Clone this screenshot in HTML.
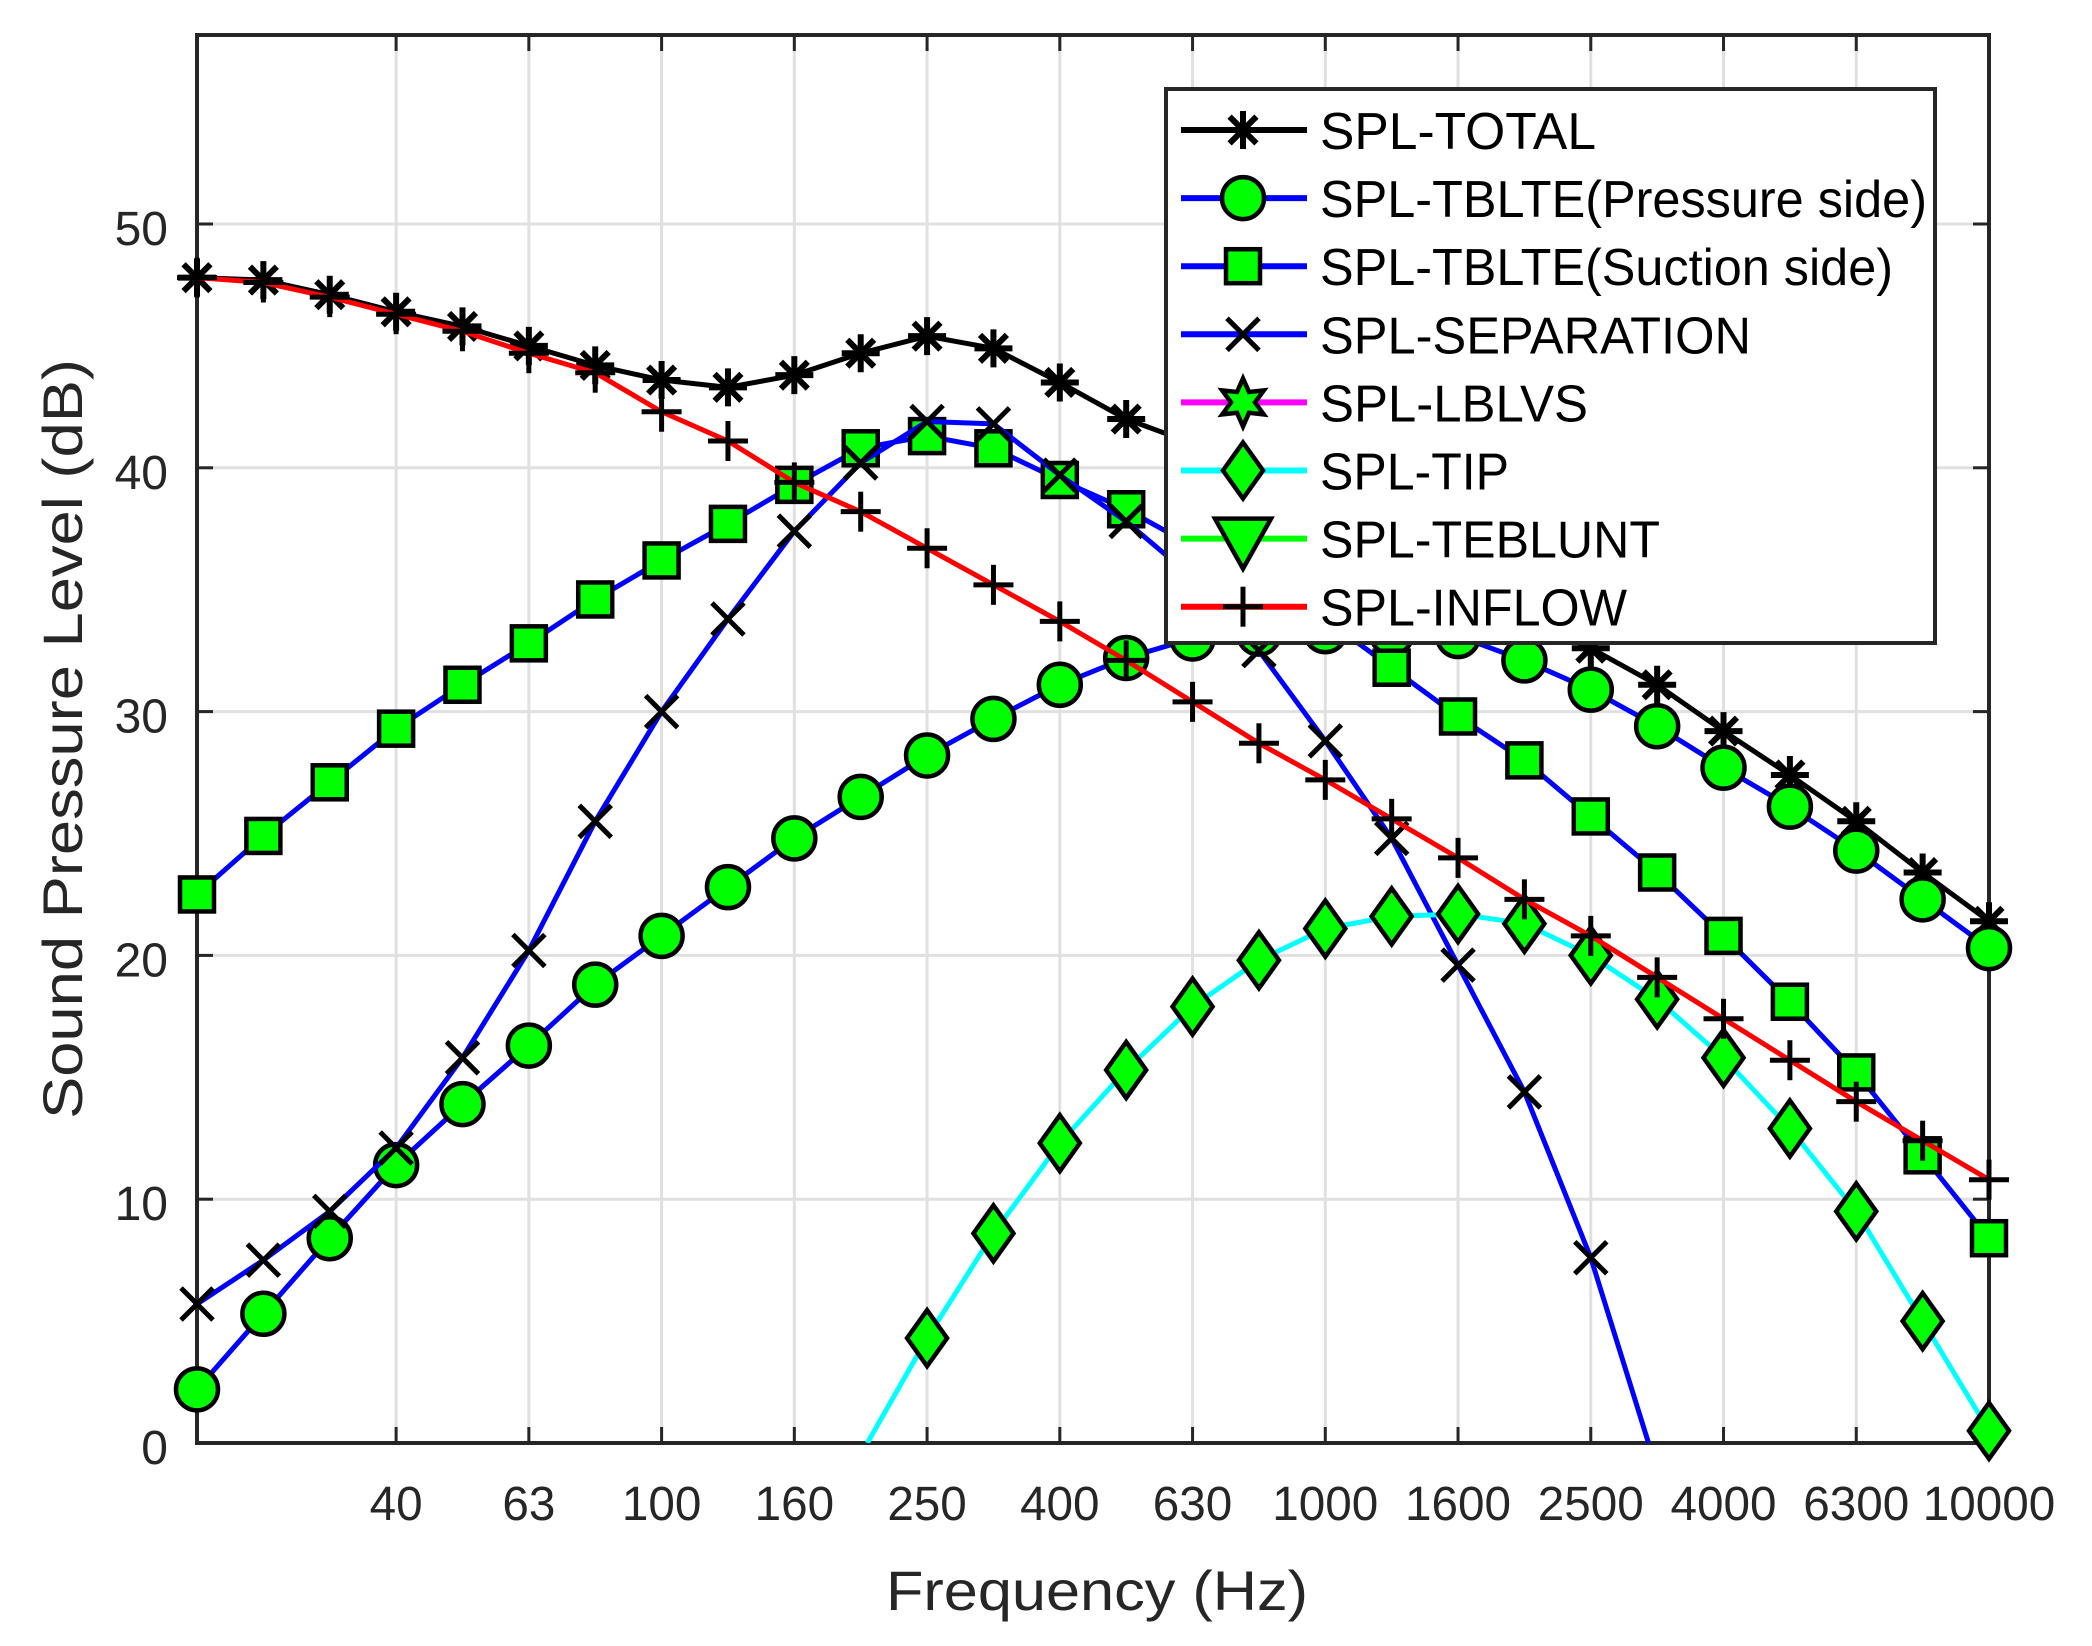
<!DOCTYPE html>
<html><head><meta charset="utf-8"><style>
html,body{margin:0;padding:0;background:#fff;}
svg{display:block;}
text{font-family:"Liberation Sans",Arial,sans-serif;}
</style></head><body>
<svg id="s" width="2092" height="1646" viewBox="0 0 2092 1646" xmlns="http://www.w3.org/2000/svg">
<defs><clipPath id="ax"><rect x="197" y="35" width="1792" height="1408"/></clipPath></defs>
<rect width="2092" height="1646" fill="#fff"/>
<g id="grid"></g>
<g id="axes"></g>
<g id="series"></g>
<g id="legend"></g>
</svg>
<script>
const NS="http://www.w3.org/2000/svg";
const X=i=>197+i*1792/27, Y=v=>1443-v*24.38;
function el(tag,attrs,parent,txt){const e=document.createElementNS(NS,tag);for(const k in attrs)e.setAttribute(k,attrs[k]);if(txt!==undefined)e.textContent=txt;parent.appendChild(e);return e;}
const grid=document.getElementById('grid'),axes=document.getElementById('axes'),ser=document.getElementById('series'),leg=document.getElementById('legend');
const ticks=[[3,'40'],[5,'63'],[7,'100'],[9,'160'],[11,'250'],[13,'400'],[15,'630'],[17,'1000'],[19,'1600'],[21,'2500'],[23,'4000'],[25,'6300'],[27,'10000']];
ticks.forEach(([i,l])=>{const x=X(i);
 if(i<27)el('line',{x1:x,x2:x,y1:35,y2:1443,stroke:'#e0e0e0','stroke-width':3},grid);
 el('line',{x1:x,x2:x,y1:1443,y2:1427,stroke:'#262626','stroke-width':3},axes);
 el('line',{x1:x,x2:x,y1:35,y2:51,stroke:'#262626','stroke-width':3},axes);
 el('text',{x:x,y:1520,'text-anchor':'middle','font-size':48,fill:'#262626',textLength:l.length*26.5,lengthAdjust:'spacingAndGlyphs'},axes,l);});
for(let v=0;v<=50;v+=10){const y=Y(v);
 if(v>0)el('line',{x1:197,x2:1989,y1:y,y2:y,stroke:'#e0e0e0','stroke-width':3},grid);
 el('line',{x1:197,x2:213,y1:y,y2:y,stroke:'#262626','stroke-width':3},axes);
 el('line',{x1:1973,x2:1989,y1:y,y2:y,stroke:'#262626','stroke-width':3},axes);
 el('text',{x:168,y:y+21,'text-anchor':'end','font-size':48,fill:'#262626'},axes,String(v));}
el('rect',{x:197,y:35,width:1792,height:1408,fill:'none',stroke:'#262626','stroke-width':4},axes);
el('text',{x:1097,y:1610,'text-anchor':'middle','font-size':56,fill:'#262626',textLength:422,lengthAdjust:'spacingAndGlyphs'},axes,'Frequency (Hz)');
el('text',{x:0,y:0,'text-anchor':'middle','font-size':56,fill:'#262626',textLength:760,lengthAdjust:'spacingAndGlyphs',transform:'translate(82,739) rotate(-90)'},axes,'Sound Pressure Level (dB)');

function marker(type,cx,cy,g,col){
 const sk={stroke:'#000','stroke-width':4.5,fill:'#00ff00'};
 if(type==='o')el('circle',Object.assign({cx,cy,r:21},sk),g);
 else if(type==='s')el('rect',Object.assign({x:cx-17,y:cy-17,width:34,height:34},sk),g);
 else if(type==='d')el('polygon',Object.assign({points:`${cx},${cy-28} ${cx+20},${cy} ${cx},${cy+28} ${cx-20},${cy}`},sk),g);
 else if(type==='v')el('polygon',Object.assign({points:`${cx-28},${cy-20} ${cx+28},${cy-20} ${cx},${cy+30}`},sk),g);
 else if(type==='h'){const p=[];for(let k=0;k<12;k++){const a=-Math.PI/2+k*Math.PI/6,r=k%2?12:24;p.push((cx+r*Math.cos(a))+','+(cy+r*Math.sin(a)));}el('polygon',Object.assign({points:p.join(' ')},sk),g);}
 else if(type==='*'){const r=19;[[0,1],[1,0],[0.707,0.707],[0.707,-0.707]].forEach(([a,b])=>el('line',{x1:cx-a*r,y1:cy-b*r,x2:cx+a*r,y2:cy+b*r,stroke:'#000','stroke-width':6},g));}
 else if(type==='+'){const r=20;el('line',{x1:cx-r,x2:cx+r,y1:cy,y2:cy,stroke:'#000','stroke-width':5},g);el('line',{x1:cx,x2:cx,y1:cy-r,y2:cy+r,stroke:'#000','stroke-width':5},g);}
 else if(type==='x'){const r=16;el('line',{x1:cx-r,x2:cx+r,y1:cy-r,y2:cy+r,stroke:'#000','stroke-width':5},g);el('line',{x1:cx-r,x2:cx+r,y1:cy+r,y2:cy-r,stroke:'#000','stroke-width':5},g);}
}
const data=[
 {c:'#000',m:'*',v:[47.8,47.7,47.1,46.4,45.8,45.0,44.2,43.6,43.3,43.8,44.7,45.4,44.9,43.5,42.0,41.0,39.5,37.8,36.2,35.0,33.8,32.6,31.1,29.2,27.4,25.5,23.4,21.4]},
 {c:'#0000ff',m:'o',v:[2.2,5.3,8.4,11.4,13.9,16.3,18.8,20.8,22.8,24.8,26.5,28.2,29.7,31.1,32.2,33.0,33.2,33.3,33.2,33.1,32.1,30.9,29.4,27.7,26.1,24.3,22.3,20.3]},
 {c:'#0000ff',m:'s',v:[22.5,24.9,27.1,29.3,31.1,32.8,34.6,36.2,37.7,39.3,40.8,41.3,40.8,39.5,38.3,36.8,35.4,33.8,31.8,29.8,28.0,25.7,23.4,20.8,18.1,15.2,11.8,8.4]},
 {c:'#0000ff',m:'x',v:[5.7,7.5,9.5,12.1,15.8,20.2,25.5,30.0,33.8,37.4,40.2,41.9,41.8,39.7,37.8,35.5,32.5,28.8,24.8,19.6,14.4,7.6],end:[21.87,0]},
 {c:'#00ffff',m:'d',start:[10.1,0],off:11,v:[4.3,8.6,12.3,15.3,17.9,19.8,21.1,21.6,21.7,21.3,20.0,18.2,15.8,12.9,9.5,5.0,0.5]},
 {c:'#ff0000',m:'+',v:[47.8,47.6,47.0,46.3,45.6,44.7,43.9,42.3,41.1,39.4,38.2,36.7,35.2,33.7,32.1,30.4,28.7,27.2,25.6,24.0,22.3,20.8,19.1,17.4,15.7,14.0,12.4,10.8]}
];
data.forEach(d=>{const off=d.off||0;const pts=d.v.map((v,k)=>[X(k+off),Y(v)]);
 let all=pts.slice();if(d.start)all.unshift([X(d.start[0]),Y(d.start[1])]);if(d.end)all.push([X(d.end[0]),Y(d.end[1])]);
 const g=el('g',{},ser);
 el('polyline',{points:all.map(p=>p.join(',')).join(' '),fill:'none',stroke:d.c,'stroke-width':5,'stroke-linejoin':'round','clip-path':'url(#ax)'},g);
 pts.forEach(p=>marker(d.m,p[0],p[1],g));});

el('rect',{x:1166,y:89,width:769,height:554,fill:'#fff',stroke:'#262626','stroke-width':4},leg);
const L=[['#000','*','SPL-TOTAL',276],['#0000ff','o','SPL-TBLTE(Pressure side)',607],['#0000ff','s','SPL-TBLTE(Suction side)',573],['#0000ff','x','SPL-SEPARATION',431],['#ff00ff','h','SPL-LBLVS',268],['#00ffff','d','SPL-TIP',189],['#00ff00','v','SPL-TEBLUNT',340],['#ff0000','+','SPL-INFLOW',307]];
L.forEach(([c,m,t,w],k)=>{const y=130+k*68.1;
 el('line',{x1:1181,x2:1307,y1:y,y2:y,stroke:c,'stroke-width':6},leg);
 marker(m,1243,y,leg);
 el('text',{x:1320,y:y+19,'font-size':52,fill:'#000',textLength:w,lengthAdjust:'spacingAndGlyphs'},leg,t);});
</script>
</body></html>
